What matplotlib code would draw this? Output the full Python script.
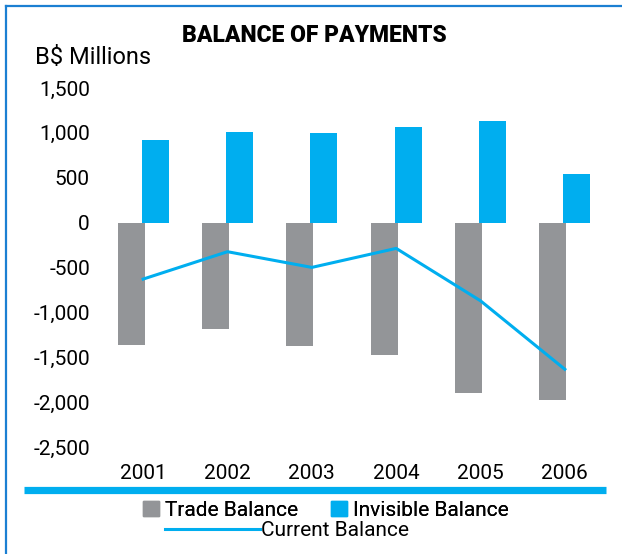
import matplotlib
matplotlib.use("Agg")
import matplotlib.pyplot as plt
from matplotlib.lines import Line2D
from matplotlib.patches import Patch
import numpy as np

years = ["2001", "2002", "2003", "2004", "2005", "2006"]
trade_balance = [-1363, -1184, -1374, -1474, -1899, -1977]
invisible_balance = [916, 1005, 994, 1061, 1128, 547]
current_balance = [-629, -324, -499, -287, -871, -1634]
y_ticks = [-2500, -2000, -1500, -1000, -500, 0, 500, 1000, 1500]
y_tick_labels = ["-2,500", "-2,000", "-1,500", "-1,000", "-500", "0", "500", "1,000", "1,500"]

GRAY = "#939598"
BLUE = "#00aeef"
BORDER = "#1b7fd2"
FONT = "Roboto"

W, H = 622, 554
fig = plt.figure(figsize=(W / 100, H / 100), dpi=100)
plt.rcParams["font.family"] = [FONT, "DejaVu Sans"]

def fx(px):
    return px / W

def fy(py):
    return 1 - py / H

ax = fig.add_axes([fx(101), fy(447), fx(607) - fx(101), fy(88) - fy(447)])
x = np.arange(len(years))
bw = 0.32
off = 0.143
ax.bar(x - off, trade_balance, width=bw, color=GRAY, zorder=2)
ax.bar(x + off, invisible_balance, width=bw, color=BLUE, zorder=2)
ax.plot(x, current_balance, color=BLUE, linewidth=2.2, zorder=3)

ax.set_xlim(-0.5, len(years) - 0.5)
ax.set_ylim(-2500, 1500)
ax.set_yticks(y_ticks)
ax.set_yticklabels(y_tick_labels)
ax.set_xticks(x)
ax.set_xticklabels(years)
ax.tick_params(axis="both", length=0, labelsize=15, colors="black")
ax.tick_params(axis="y", pad=8)
ax.tick_params(axis="x", pad=12)
for s in ax.spines.values():
    s.set_visible(False)

fig.text(fx(314), fy(35), "BALANCE OF PAYMENTS", ha="center", va="center",
         fontsize=16.5, fontweight="black", family=[FONT, "DejaVu Sans"])
fig.text(fx(35), fy(58), "B$ Millions", ha="left", va="center", fontsize=17)

# decorative lines
fig.add_artist(Line2D([fx(24), fx(606)], [fy(489.5), fy(489.5)], color=BLUE, linewidth=5.2,
                      solid_capstyle="butt", transform=fig.transFigure))
fig.add_artist(Line2D([fx(6), fx(W + 5)], [fy(6), fy(6)], color=BORDER, linewidth=1.6,
                      transform=fig.transFigure))
fig.add_artist(Line2D([fx(6), fx(6)], [fy(6), fy(H + 5)], color=BORDER, linewidth=1.6,
                      transform=fig.transFigure))

leg1 = fig.legend(handles=[Patch(color=GRAY, label="Trade Balance"),
                           Patch(color=BLUE, label="Invisible Balance")],
                  loc="center", bbox_to_anchor=(fx(326), fy(510)), ncol=2, frameon=False,
                  fontsize=15, handlelength=0.75, handleheight=0.7, handletextpad=0.3,
                  columnspacing=1.6, borderpad=0, borderaxespad=0)
fig.add_artist(leg1)
leg2 = fig.legend(handles=[Line2D([0], [0], color=BLUE, linewidth=2.2, label="Current Balance")],
                  loc="center", bbox_to_anchor=(fx(287), fy(531)), frameon=False,
                  fontsize=15, handlelength=4.6, handletextpad=0.05, borderpad=0, borderaxespad=0)

fig.savefig("out.png", dpi=100)
